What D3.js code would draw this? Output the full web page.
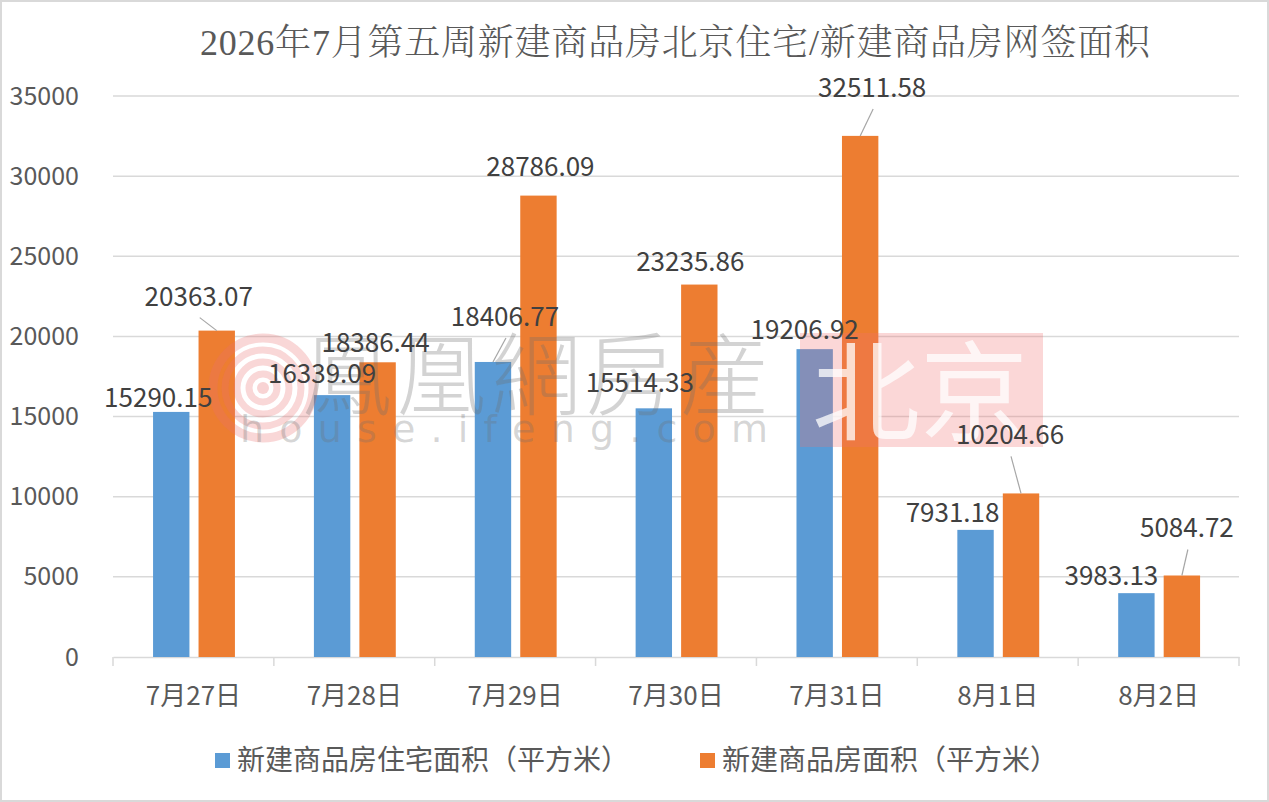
<!DOCTYPE html>
<html>
<head>
<meta charset="utf-8">
<script src="https://cdn.jsdelivr.net/npm/d3@7"></script>
<style>
  html, body { margin: 0; padding: 0; background: #fff; }
  svg { display: block; }
</style>
</head>
<body>
<script>
// chart data
const categories = ["7月27日", "7月28日", "7月29日", "7月30日", "7月31日", "8月1日", "8月2日"];
const seriesNames = ["新建商品房住宅面积（平方米）", "新建商品房面积（平方米）"];
const residentialArea = [15290.15, 16339.09, 18406.77, 15514.33, 19206.92, 7931.18, 3983.13];
const totalArea = [20363.07, 18386.44, 28786.09, 23235.86, 32511.58, 10204.66, 5084.72];
const yTicks = [0, 5000, 10000, 15000, 20000, 25000, 30000, 35000];
const title = "2026年7月第五周新建商品房北京住宅/新建商品房网签面积";

// labels were dragged by hand in the original, so keep their nudges (px from bar top centre)
const labelNudge = [
  [[-13, -5], [-18, -25]],
  [[-10, -12], [-2, -10]],
  [[12, -36], [2, -20]],
  [[-14, -16], [-9, -14]],
  [[-10, -10], [12, -39]],
  [[-23, -8], [-11, -49]],
  [[-25, -8], [5, -38]]
];
const leader = [[false, true], [false, false], [true, false], [false, false],
                [false, true], [false, true], [false, true]];

const width = 1269, height = 802;
const colors = ["#5B9BD5", "#ED7D31"];
const sans = "'Noto Sans CJK SC', 'Noto Sans', sans-serif";

const svg = d3.select("body").append("svg")
  .attr("width", width)
  .attr("height", height);

svg.append("rect")
  .attr("x", 1).attr("y", 1)
  .attr("width", width - 2).attr("height", height - 2)
  .attr("fill", "#fff")
  .attr("stroke", "#D9D9D9")
  .attr("stroke-width", 2);

const x0 = d3.scaleBand().domain(categories).range([113, 1239]);
const x1 = d3.scaleBand().domain([0, 1])
  .range([x0.bandwidth() * 0.249, x0.bandwidth() * 0.758])
  .paddingInner(0.2);
const y = d3.scaleLinear().domain([0, 35000]).range([657, 96]);

// title
svg.append("text")
  .attr("x", 675).attr("y", 55)
  .attr("text-anchor", "middle")
  .attr("font-family", "'Liberation Serif', 'Noto Serif CJK SC', 'Noto Sans CJK SC', serif")
  .attr("font-weight", 300)
  .attr("font-size", 36)
  .attr("fill", "#595959")
  .attr("textLength", 950)
  .text(title);

// gridlines
svg.append("g")
  .selectAll("line")
  .data(yTicks.filter(d => d > 0))
  .join("line")
  .attr("x1", 113).attr("x2", 1239)
  .attr("y1", d => y(d)).attr("y2", d => y(d))
  .attr("stroke", "#D9D9D9")
  .attr("stroke-width", 1.5);

// y axis labels
const yAxis = svg.append("g")
  .attr("transform", "translate(79,0)")
  .call(d3.axisLeft(y).tickValues(yTicks).tickSize(0).tickPadding(0).tickFormat(d3.format("d")));
yAxis.select(".domain").remove();
yAxis.selectAll("text")
  .attr("font-family", sans)
  .attr("font-size", 25)
  .attr("fill", "#595959");

// x axis
const xAxis = svg.append("g")
  .attr("transform", `translate(0,${y(0)})`)
  .call(d3.axisBottom(x0).tickSize(0).tickPadding(0));
xAxis.select(".domain").attr("stroke", "#D9D9D9").attr("stroke-width", 1.5);
xAxis.selectAll(".tick text")
  .attr("y", 48)
  .attr("dy", 0)
  .attr("font-family", sans)
  .attr("font-size", 26)
  .attr("fill", "#595959");
svg.append("g")
  .selectAll("line")
  .data(d3.range(categories.length + 1))
  .join("line")
  .attr("x1", i => 113 + i * x0.step()).attr("x2", i => 113 + i * x0.step())
  .attr("y1", y(0)).attr("y2", y(0) + 9)
  .attr("stroke", "#D9D9D9")
  .attr("stroke-width", 1.5);

// bars
const series = [residentialArea, totalArea];
const barData = [];
categories.forEach((c, i) => {
  series.forEach((s, k) => {
    barData.push({ cat: c, i, k, value: s[i] });
  });
});

svg.append("g")
  .selectAll("rect")
  .data(barData)
  .join("rect")
  .attr("x", d => x0(d.cat) + x1(d.k))
  .attr("y", d => y(d.value))
  .attr("width", x1.bandwidth())
  .attr("height", d => y(0) - y(d.value))
  .attr("fill", d => colors[d.k]);

// watermark (drawn over the bars, like the original)
const wm = svg.append("g").attr("pointer-events", "none");
const logo = wm.append("g").attr("transform", "translate(263,388)");
[50, 38, 26, 14].forEach((r, j) => {
  logo.append("circle")
    .attr("r", r)
    .attr("fill", "none")
    .attr("stroke", "rgba(232,110,110,0.28)")
    .attr("stroke-width", j === 0 ? 9 : 7);
});
logo.append("circle").attr("r", 6).attr("fill", "rgba(232,110,110,0.3)");
wm.append("text")
  .attr("x", 302).attr("y", 408)
  .attr("font-family", "'Noto Sans CJK TC', serif")
  .attr("font-weight", 300)
  .attr("font-size", 90)
  .attr("fill", "rgba(110,110,110,0.3)")
  .attr("textLength", 468)
  .text("鳳凰網房産");
wm.append("text")
  .attr("x", 240).attr("y", 442)
  .attr("font-family", "'DejaVu Sans', sans-serif")
  .attr("font-size", 38)
  .attr("fill", "rgba(110,110,110,0.28)")
  .attr("textLength", 528)
  .text("house.ifeng.com");
wm.append("rect")
  .attr("x", 800).attr("y", 333)
  .attr("width", 243).attr("height", 114)
  .attr("fill", "rgba(240,110,110,0.28)");
wm.append("text")
  .attr("x", 812).attr("y", 432)
  .attr("font-family", "'Noto Sans CJK SC', serif")
  .attr("font-size", 108)
  .attr("fill", "rgba(255,255,255,0.75)")
  .text("北京");

// data labels + leader lines
const labelX = d => x0(d.cat) + x1(d.k) + x1.bandwidth() / 2 + labelNudge[d.i][d.k][0];
const labelY = d => y(d.value) + labelNudge[d.i][d.k][1];

svg.append("g")
  .selectAll("line")
  .data(barData.filter(d => leader[d.i][d.k]))
  .join("line")
  .attr("x1", d => labelX(d) + 1)
  .attr("y1", d => labelY(d) + 12)
  .attr("x2", d => x0(d.cat) + x1(d.k) + x1.bandwidth() / 2)
  .attr("y2", d => y(d.value))
  .attr("stroke", "#A6A6A6")
  .attr("stroke-width", 1.2);

svg.append("g")
  .selectAll("text")
  .data(barData)
  .join("text")
  .attr("x", labelX)
  .attr("y", labelY)
  .attr("text-anchor", "middle")
  .attr("font-family", sans)
  .attr("font-size", 26)
  .attr("fill", "#404040")
  .text(d => d3.format(".2f")(d.value));

// legend
const legendX = [215, 700];
const legend = svg.append("g")
  .selectAll("g")
  .data(seriesNames)
  .join("g")
  .attr("transform", (d, k) => `translate(${legendX[k]},753)`);
legend.append("rect")
  .attr("width", 15).attr("height", 15)
  .attr("fill", (d, k) => colors[k]);
legend.append("text")
  .attr("x", 22).attr("y", 17)
  .attr("font-family", sans)
  .attr("font-size", 28)
  .attr("fill", "#595959")
  .text(d => d);
</script>
</body>
</html>
